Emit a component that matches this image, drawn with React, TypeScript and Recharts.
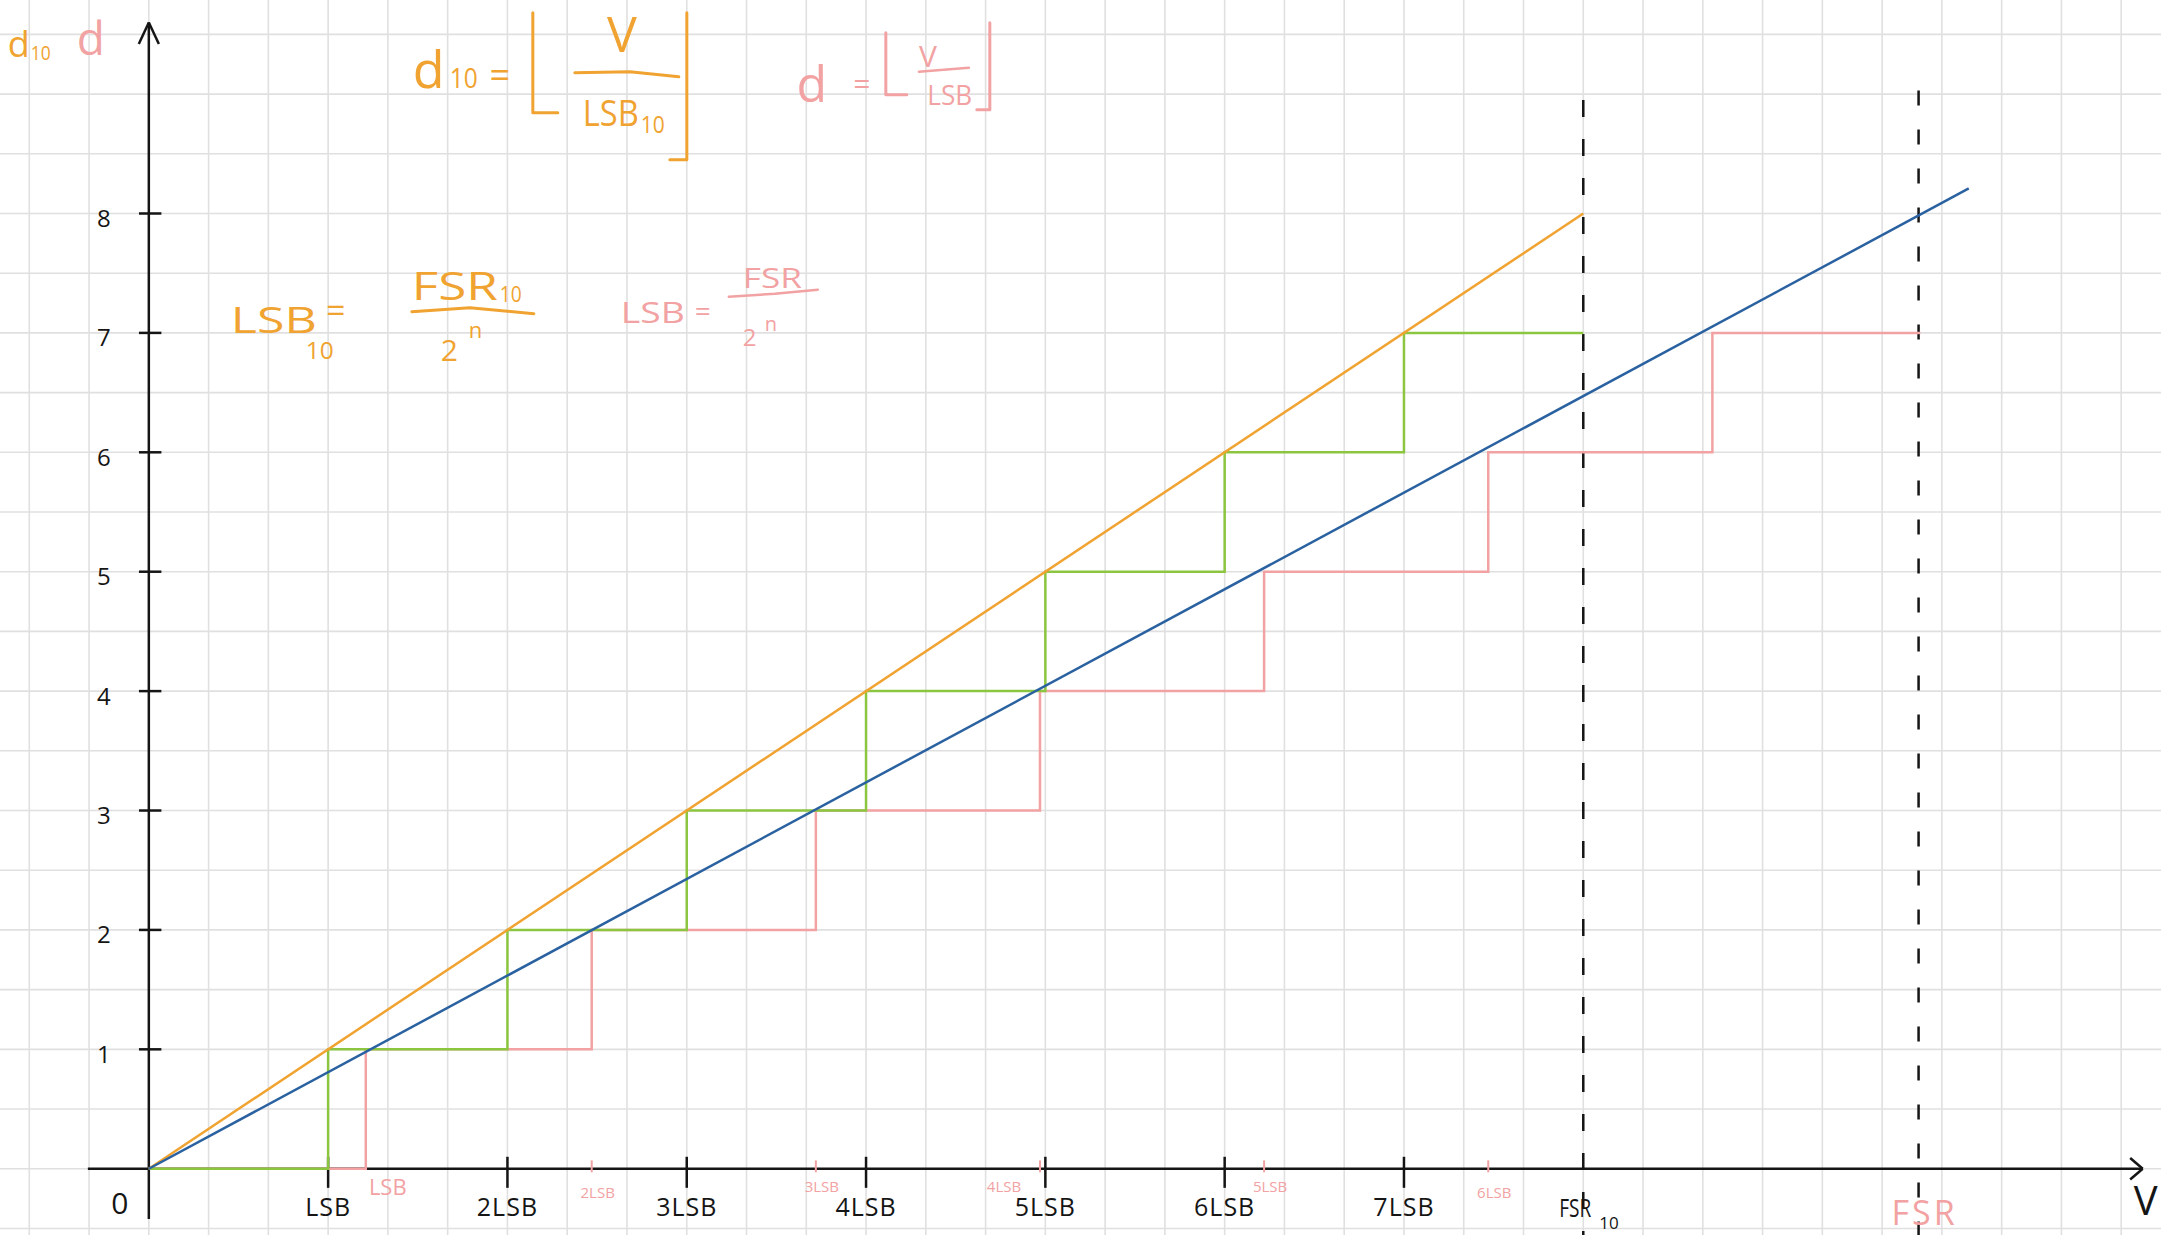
import React from 'react';
import { ComposedChart, Line, XAxis, YAxis, ReferenceLine, ReferenceDot } from 'recharts';

const W = 2161;
const H = 1235;

// x is in LSB10 units, y in output codes
const X_DOMAIN: [number, number] = [-0.83, 11.222];
const Y_DOMAIN: [number, number] = [-0.555, 9.788];

const codes = [1, 2, 3, 4, 5, 6, 7, 8];
const xTicks = [1, 2, 3, 4, 5, 6, 7];
const xTickLabels = ['LSB', '2LSB', '3LSB', '4LSB', '5LSB', '6LSB', '7LSB'];

// ideal transfer lines
const orangeX = [0, 8];
const orangeY = [0, 8];
const blueX = [0, 10.15];
const blueY = [0, 8.21];

// staircase with LSB10 steps (green)
const greenX = [0, 1, 2, 3, 4, 5, 6, 7, 8];
const greenY = [0, 1, 2, 3, 4, 5, 6, 7, 7];

// staircase with LSB steps (pink)
const pinkX = [0, 1.21, 2.47, 3.72, 4.97, 6.22, 7.47, 8.72, 9.88];
const pinkY = [0, 1, 2, 3, 4, 5, 6, 7, 7];
const pinkTickLabels = ['LSB', '2LSB', '3LSB', '4LSB', '5LSB', '6LSB'];

const FSR10 = 8;
const FSR = 9.87;

// squared paper: 3 cells per LSB10, 2 cells per code
const gridX = Array.from({ length: 36 }, (_, i) => (i - 2) / 3);
const gridY = Array.from({ length: 21 }, (_, i) => (i - 1) / 2);

const zip = (xs: number[], ys: number[]) => xs.map((x, i) => ({ x, y: ys[i] }));

const ORANGE = '#f0a331';
const BLUE = '#2a61a0';
const GREEN = '#8cc540';
const PINK = '#f2a2a2';
const INK = '#151515';
const FONT = '"Open Sans", "DejaVu Sans", sans-serif';

const seg = (x1: number, y1: number, x2: number, y2: number, color: string, w: number, key: string) => (
  <ReferenceLine
    key={key}
    segment={[{ x: x1, y: y1 }, { x: x2, y: y2 }]}
    stroke={color}
    strokeWidth={w}
    ifOverflow="visible"
  />
);

// annotations drawn relative to the origin pixel (px/py are picture coords)
const Annotations = ({ cx, cy }: { cx: number; cy: number }) => {
  const X = (px: number) => cx + (px - 149);
  const Y = (py: number) => cy + (py - 1169);
  const t = (px: number, py: number, s: string, size: number, color: string, extra: any = {}) => (
    <text x={X(px)} y={Y(py)} fontSize={size} fill={color} fontFamily={FONT} {...extra}>{s}</text>
  );
  const p = (d: number[][], color: string, w = 3) => (
    <polyline
      points={d.map(([a, b]) => `${X(a)},${Y(b)}`).join(' ')}
      fill="none"
      stroke={color}
      strokeWidth={w}
      strokeLinecap="round"
      strokeLinejoin="round"
    />
  );
  return (
    <g>
      {/* axis names */}
      {t(8, 57, 'd', 36, ORANGE)}
      {t(31, 60, '10', 20, ORANGE, { textLength: 20, lengthAdjust: 'spacingAndGlyphs' })}
      {t(91, 55, 'd', 46, PINK, { textAnchor: 'middle' })}

      {/* d10 = floor(V / LSB10) */}
      {t(413, 88, 'd', 52, ORANGE)}
      {t(450, 88, '10', 28, ORANGE, { textLength: 28, lengthAdjust: 'spacingAndGlyphs' })}
      {t(500, 88, '=', 36, ORANGE, { textAnchor: 'middle' })}
      {p([[533, 13], [533, 113], [558, 113]], ORANGE)}
      {t(622, 52, 'V', 50, ORANGE, { textAnchor: 'middle' })}
      {p([[575, 73], [630, 72], [679, 77]], ORANGE)}
      {t(583, 126, 'LSB', 36, ORANGE, { textLength: 56, lengthAdjust: 'spacingAndGlyphs' })}
      {t(641, 133, '10', 24, ORANGE, { textLength: 24, lengthAdjust: 'spacingAndGlyphs' })}
      {p([[670, 160], [687, 160], [687, 13]], ORANGE)}

      {/* d = floor(V / LSB) */}
      {t(812, 102, 'd', 50, PINK, { textAnchor: 'middle' })}
      {t(862, 94, '=', 30, PINK, { textAnchor: 'middle' })}
      {p([[886, 33], [886, 95], [907, 95]], PINK)}
      {t(928, 67, 'V', 30, PINK, { textAnchor: 'middle' })}
      {p([[919, 72], [969, 68]], PINK, 2.5)}
      {t(950, 105, 'LSB', 27, PINK, { textAnchor: 'middle', textLength: 45, lengthAdjust: 'spacingAndGlyphs' })}
      {p([[977, 110], [990, 110], [990, 23]], PINK)}

      {/* LSB10 = FSR10 / 2^n */}
      {t(231, 333, 'LSB', 36, ORANGE, { textLength: 86, lengthAdjust: 'spacingAndGlyphs' })}
      {t(306, 359, '10', 24, ORANGE, { textLength: 28, lengthAdjust: 'spacingAndGlyphs' })}
      {t(336, 323, '=', 34, ORANGE, { textAnchor: 'middle' })}
      {t(412, 300, 'FSR', 38, ORANGE, { textLength: 86, lengthAdjust: 'spacingAndGlyphs' })}
      {t(500, 302, '10', 22, ORANGE, { textLength: 22, lengthAdjust: 'spacingAndGlyphs' })}
      {p([[412, 312], [470, 308], [534, 314]], ORANGE)}
      {t(441, 361, '2', 30, ORANGE)}
      {t(469, 338, 'n', 22, ORANGE)}

      {/* LSB = FSR / 2^n */}
      {t(621, 323, 'LSB', 30, PINK, { textLength: 64, lengthAdjust: 'spacingAndGlyphs' })}
      {t(703, 321, '=', 28, PINK, { textAnchor: 'middle' })}
      {t(743, 288, 'FSR', 28, PINK, { textLength: 59, lengthAdjust: 'spacingAndGlyphs' })}
      {p([[729, 297], [775, 294], [818, 290]], PINK, 2.5)}
      {t(743, 346, '2', 24, PINK)}
      {t(765, 331, 'n', 20, PINK)}

      {/* origin */}
      {t(120, 1214, '0', 30, INK, { textAnchor: 'middle' })}
    </g>
  );
};

const App: React.FC = () => {
  const orange = zip(orangeX, orangeY);
  const blue = zip(blueX, blueY);
  const green = zip(greenX, greenY);
  const pink = zip(pinkX, pinkY);

  return (
    <div style={{ position: 'absolute', left: 0, top: 0, width: W, height: H, background: '#fff' }}>
      <ComposedChart width={W} height={H} margin={{ top: 0, right: 0, bottom: 0, left: 0 }}>
        <XAxis type="number" dataKey="x" domain={X_DOMAIN} allowDataOverflow hide />
        <YAxis type="number" domain={Y_DOMAIN} allowDataOverflow hide />

        {/* paper grid */}
        {gridX.map((v) => (
          <ReferenceLine key={`gx${v}`} x={v} stroke="#e0e0e0" strokeWidth={1.6} />
        ))}
        {gridY.map((v) => (
          <ReferenceLine key={`gy${v}`} y={v} stroke="#e0e0e0" strokeWidth={1.6} />
        ))}

        {/* axes with arrows */}
        {seg(-0.34, 0, 11.12, 0, INK, 2.5, 'xa')}
        {seg(11.05, 0.09, 11.12, 0, INK, 2.5, 'xa1')}
        {seg(11.05, -0.09, 11.12, 0, INK, 2.5, 'xa2')}
        {seg(0, -0.42, 0, 9.6, INK, 2.5, 'ya')}
        {seg(-0.056, 9.42, 0, 9.6, INK, 2.5, 'ya1')}
        {seg(0.056, 9.42, 0, 9.6, INK, 2.5, 'ya2')}

        {codes.map((c) => seg(-0.055, c, 0.07, c, INK, 2.5, `yt${c}`))}
        {xTicks.map((v) => seg(v, 0.1, v, -0.16, INK, 2.5, `xt${v}`))}
        {pinkX.slice(2, 7).map((v, i) => seg(v, 0.07, v, -0.03, PINK, 2, `pt${i}`))}

        {/* full scale markers */}
        <ReferenceLine
          segment={[{ x: FSR10, y: 8.95 }, { x: FSR10, y: Y_DOMAIN[0] }]}
          stroke={INK}
          strokeWidth={2.5}
          strokeDasharray="17 22"
          ifOverflow="visible"
        />
        <ReferenceLine
          segment={[{ x: FSR, y: 9.03 }, { x: FSR, y: Y_DOMAIN[0] }]}
          stroke={INK}
          strokeWidth={2.5}
          strokeDasharray="15 24"
          ifOverflow="visible"
        />

        <Line data={pink} dataKey="y" type="stepAfter" stroke={PINK} strokeWidth={2.5} dot={false} activeDot={false} isAnimationActive={false} />
        <Line data={green} dataKey="y" type="stepAfter" stroke={GREEN} strokeWidth={2.5} dot={false} activeDot={false} isAnimationActive={false} />
        <Line data={orange} dataKey="y" type="linear" stroke={ORANGE} strokeWidth={2.5} dot={false} activeDot={false} isAnimationActive={false} />
        <Line data={blue} dataKey="y" type="linear" stroke={BLUE} strokeWidth={2.5} dot={false} activeDot={false} isAnimationActive={false} />

        {/* y tick labels */}
        {codes.map((c) => (
          <ReferenceDot
            key={`yl${c}`}
            x={0}
            y={c}
            r={0}
            ifOverflow="visible"
            shape={(p: any) => (
              <text x={p.cx - 45} y={p.cy + 4} fontSize={24} fill={INK} fontFamily={FONT} textAnchor="middle" dominantBaseline="central">
                {c}
              </text>
            )}
          />
        ))}

        {/* x tick labels */}
        {xTicks.map((v, i) => (
          <ReferenceDot
            key={`xl${v}`}
            x={v}
            y={0}
            r={0}
            ifOverflow="visible"
            shape={(p: any) => (
              <text x={p.cx} y={p.cy + 47} fontSize={25} fill={INK} fontFamily={FONT} textAnchor="middle" letterSpacing={1}>
                {xTickLabels[i]}
              </text>
            )}
          />
        ))}
        <ReferenceDot
          x={FSR10}
          y={0}
          r={0}
          ifOverflow="visible"
          shape={(p: any) => (
            <g>
              <text x={p.cx - 24} y={p.cy + 48} fontSize={26} fill={INK} fontFamily={FONT} textLength={32} lengthAdjust="spacingAndGlyphs">FSR</text>
              <text x={p.cx + 16} y={p.cy + 60} fontSize={17} fill={INK} fontFamily={FONT}>10</text>
            </g>
          )}
        />
        <ReferenceDot
          x={FSR}
          y={0}
          r={0}
          ifOverflow="visible"
          shape={(p: any) => (
            <text x={p.cx + 6} y={p.cy + 56} fontSize={34} fill={PINK} fontFamily={FONT} textAnchor="middle" letterSpacing={3}>FSR</text>
          )}
        />
        <ReferenceDot
          x={11.12}
          y={0}
          r={0}
          ifOverflow="visible"
          shape={(p: any) => (
            <text x={p.cx + 3} y={p.cy + 46} fontSize={40} fill={INK} fontFamily={FONT} textAnchor="middle">V</text>
          )}
        />

        {/* pink tick labels for LSB */}
        {pinkTickLabels.map((s, i) => (
          <ReferenceDot
            key={`pl${i}`}
            x={pinkX[i + 1]}
            y={0}
            r={0}
            ifOverflow="visible"
            shape={(p: any) => (
              <text
                x={p.cx + (i === 0 ? 22 : i === 3 ? -36 : 6)}
                y={p.cy + (i === 1 || i === 5 ? 23 : 17)}
                fontSize={i === 0 ? 22 : 15}
                fill={PINK}
                fontFamily={FONT}
                textAnchor="middle"
                dominantBaseline="central"
              >
                {s}
              </text>
            )}
          />
        ))}

        <ReferenceDot x={0} y={0} r={0} ifOverflow="visible" shape={(p: any) => <Annotations cx={p.cx} cy={p.cy} />} />
      </ComposedChart>
    </div>
  );
};

export default App;
